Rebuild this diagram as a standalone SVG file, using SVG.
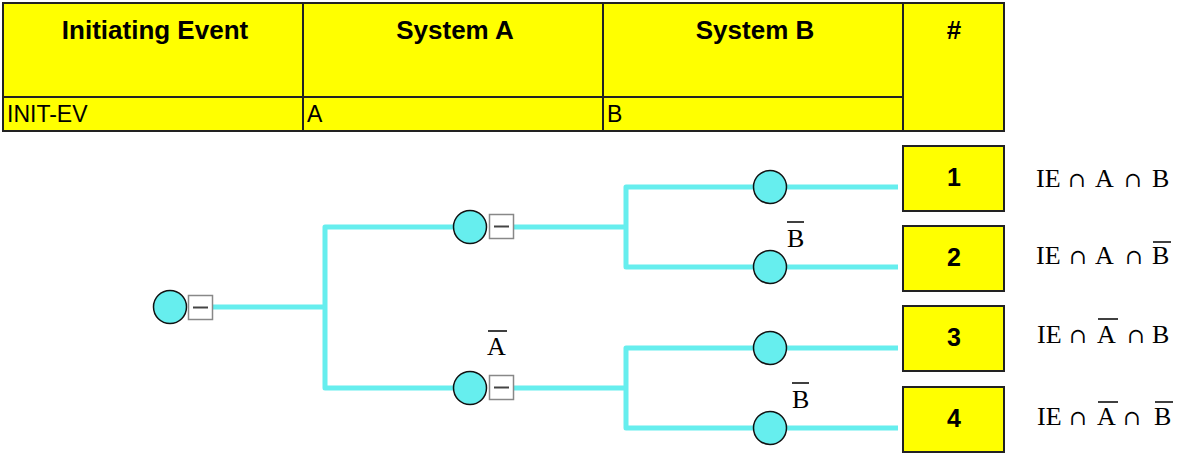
<svg xmlns="http://www.w3.org/2000/svg" width="1183" height="455" viewBox="0 0 1183 455">
<style>
.cell{fill:#FFFF00;stroke:#222;stroke-width:2}
.hd{font-family:"Liberation Sans",Arial,sans-serif;font-weight:bold;font-size:26px;fill:#000;text-anchor:middle}
.id{font-family:"Liberation Sans",Arial,sans-serif;font-size:23px;fill:#000}
.num{font-family:"Liberation Sans",Arial,sans-serif;font-weight:bold;font-size:25px;fill:#000;text-anchor:middle}
.wire{fill:none;stroke:#66EEEE;stroke-width:5;stroke-linejoin:round;stroke-linecap:butt}
.ev{fill:#66EEEE;stroke:#111;stroke-width:1.5}
.mbox{fill:#fff;stroke:#888;stroke-width:1.5}
.minus{stroke:#444;stroke-width:2}
.lbl{font-family:"Liberation Serif","Times New Roman",serif;font-size:26px;fill:#000}
.seq{font-family:"Liberation Serif","Times New Roman",serif;font-size:26px;fill:#000}
.cap{font-family:"DejaVu Serif","DejaVu Sans",serif;font-size:21px}
.bar{stroke:#000;stroke-width:1.5}
</style>
<g id="header">
<rect class="cell" x="3" y="3" width="300" height="94"/>
<rect class="cell" x="303" y="3" width="300" height="94"/>
<rect class="cell" x="603" y="3" width="300" height="94"/>
<rect class="cell" x="903" y="3" width="101" height="128"/>
<rect class="cell" x="3" y="97" width="300" height="34"/>
<rect class="cell" x="303" y="97" width="300" height="34"/>
<rect class="cell" x="603" y="97" width="300" height="34"/>
<text class="hd" x="155" y="39">Initiating Event</text>
<text class="hd" x="455" y="39">System A</text>
<text class="hd" x="755" y="39">System B</text>
<text class="hd" x="954" y="39">#</text>
<text class="id" x="7" y="122">INIT-EV</text>
<text class="id" x="307" y="122">A</text>
<text class="id" x="607" y="122">B</text>
</g>
<g id="connectors">
<path class="wire" d="M213 307 H325"/>
<path class="wire" d="M453 227 H325 V388 H453"/>
<path class="wire" d="M514 227 H626"/>
<path class="wire" d="M753 187 H626 V267 H753"/>
<path class="wire" d="M514 388 H626"/>
<path class="wire" d="M753 348 H626 V428 H753"/>
<path class="wire" d="M787 187 H898"/>
<path class="wire" d="M787 267 H898"/>
<path class="wire" d="M787 348 H898"/>
<path class="wire" d="M787 428 H898"/>
</g>
<g id="ie-node">
<circle class="ev" cx="170" cy="307" r="16.5"/>
<rect class="mbox" x="188.5" y="295.5" width="24" height="24"/>
<line class="minus" x1="193" y1="307.5" x2="208" y2="307.5"/>
</g>
<g id="a-success">
<circle class="ev" cx="470" cy="227" r="16.5"/>
<rect class="mbox" x="489.5" y="214.5" width="24" height="24"/>
<line class="minus" x1="494" y1="226.5" x2="509" y2="226.5"/>
</g>
<g id="a-failure">
<circle class="ev" cx="470" cy="388" r="16.5"/>
<rect class="mbox" x="489.5" y="375.5" width="24" height="24"/>
<line class="minus" x1="494" y1="387.5" x2="509" y2="387.5"/>
<text class="lbl" x="487" y="355">A</text>
<line class="bar" x1="488" y1="331" x2="507" y2="331"/>
</g>
<g id="b1">
<circle class="ev" cx="770" cy="187" r="16.5"/>
</g>
<g id="b2">
<circle class="ev" cx="770" cy="267" r="16.5"/>
<text class="lbl" x="787" y="247">B</text>
<line class="bar" x1="787" y1="222" x2="804" y2="222"/>
</g>
<g id="b3">
<circle class="ev" cx="770" cy="348" r="16.5"/>
</g>
<g id="b4">
<circle class="ev" cx="770" cy="428" r="16.5"/>
<text class="lbl" x="792" y="408">B</text>
<line class="bar" x1="792" y1="383" x2="809" y2="383"/>
</g>
<g id="end1">
<rect class="cell" x="903" y="146" width="101" height="65"/>
<text class="num" x="954" y="186">1</text>
<text class="seq" y="187"><tspan x="1036">IE</tspan><tspan class="cap" x="1068">∩</tspan><tspan x="1095">A</tspan><tspan class="cap" x="1124">∩</tspan><tspan x="1152">B</tspan></text>
</g>
<g id="end2">
<rect class="cell" x="903" y="226" width="101" height="65"/>
<text class="num" x="954" y="266">2</text>
<text class="seq" y="264"><tspan x="1036">IE</tspan><tspan class="cap" x="1069">∩</tspan><tspan x="1095">A</tspan><tspan class="cap" x="1125">∩</tspan><tspan x="1152">B</tspan></text>
<line class="bar" x1="1153" y1="242" x2="1171" y2="242"/>
</g>
<g id="end3">
<rect class="cell" x="903" y="306" width="101" height="65"/>
<text class="num" x="954" y="346">3</text>
<text class="seq" y="343"><tspan x="1037">IE</tspan><tspan class="cap" x="1069">∩</tspan><tspan x="1097">A</tspan><tspan class="cap" x="1127">∩</tspan><tspan x="1152">B</tspan></text>
<line class="bar" x1="1098" y1="319" x2="1118" y2="319"/>
</g>
<g id="end4">
<rect class="cell" x="903" y="387" width="101" height="65"/>
<text class="num" x="954" y="427">4</text>
<text class="seq" y="425"><tspan x="1037">IE</tspan><tspan class="cap" x="1069">∩</tspan><tspan x="1097">A</tspan><tspan class="cap" x="1123">∩</tspan><tspan x="1154">B</tspan></text>
<line class="bar" x1="1098" y1="402" x2="1118" y2="402"/>
<line class="bar" x1="1155" y1="402" x2="1173" y2="402"/>
</g>
</svg>
